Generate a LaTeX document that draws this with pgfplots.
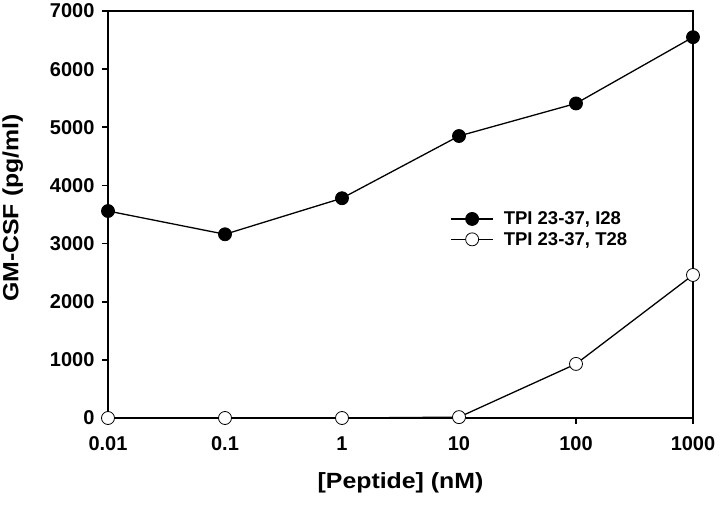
\documentclass[border=0pt]{standalone}
\usepackage{fontspec}
\setmainfont{Liberation Sans}
\newfontfamily\labelfont[FakeStretch=1.13]{Liberation Sans}
\usepackage{pgfplots}
\pgfplotsset{compat=1.18}
\begin{document}
\begin{tikzpicture}
\begin{axis}[
  name=ax,
  xmode=log,
  scale only axis,
  width=585bp, height=407bp,
  xmin=0.01, xmax=1000,
  ymin=0, ymax=7000,
  xtick={0.01,0.1,1,10,100,1000},
  xticklabels={0.01,0.1,1,10,100,1000},
  ytick={0,1000,2000,3000,4000,5000,6000,7000},
  xminorticks=false,
  tick align=outside,
  xtick pos=lower, ytick pos=left,
  major tick length=6bp,
  /pgf/number format/1000 sep={},
  /pgf/number format/assume math mode=true,
  ticklabel style={font=\fontsize{20bp}{24bp}\selectfont\bfseries},
  yticklabel style={xshift=-4bp},
  xticklabel style={yshift=-9bp},
  axis line style={line width=1.8bp},
  every tick/.style={line width=1.6bp, black},
  xlabel={[Peptide] (nM)},
  ylabel={GM-CSF (pg/ml)},
  every axis x label/.style={at={(axis description cs:0.5,-0.172)}, anchor=base, font=\labelfont\fontsize{22bp}{26bp}\selectfont\bfseries},
  every axis y label/.style={at={(axis description cs:-0.163,0.516)}, rotate=90, anchor=center, font=\labelfont\fontsize{22bp}{26bp}\selectfont\bfseries},
  clip=false,
  legend style={at={(axis description cs:0.58,0.464)}, anchor=west, draw=none, fill=none,
    font=\fontsize{18.5bp}{22bp}\selectfont\bfseries, row sep=2bp},
  legend cell align=left,
  /tikz/every odd column/.append style={column sep=8bp},
  legend image code/.code={\draw[mark repeat=2,mark phase=2] plot coordinates {(0bp,0bp) (21bp,0bp) (42bp,0bp)};},
]
\addplot[black, line width=1.3bp, mark=*, mark size=6.5bp, mark options={fill=black, line width=0.8bp}]
  coordinates {(0.01,3560) (0.1,3160) (1,3780) (10,4850) (100,5410) (1000,6550)};
\addlegendentry{TPI 23-37, I28}
\addplot[black, line width=1.3bp, mark=*, mark size=6.5bp, mark options={fill=white, line width=0.8bp}]
  coordinates {(0.01,0) (0.1,0) (1,0) (10,15) (100,930) (1000,2460)};
\addlegendentry{TPI 23-37, T28}
\end{axis}
\pgfresetboundingbox
\path[use as bounding box] ([xshift=-108bp,yshift=-91bp]ax.south west) rectangle ([xshift=27bp,yshift=11bp]ax.north east);
\end{tikzpicture}
\end{document}
